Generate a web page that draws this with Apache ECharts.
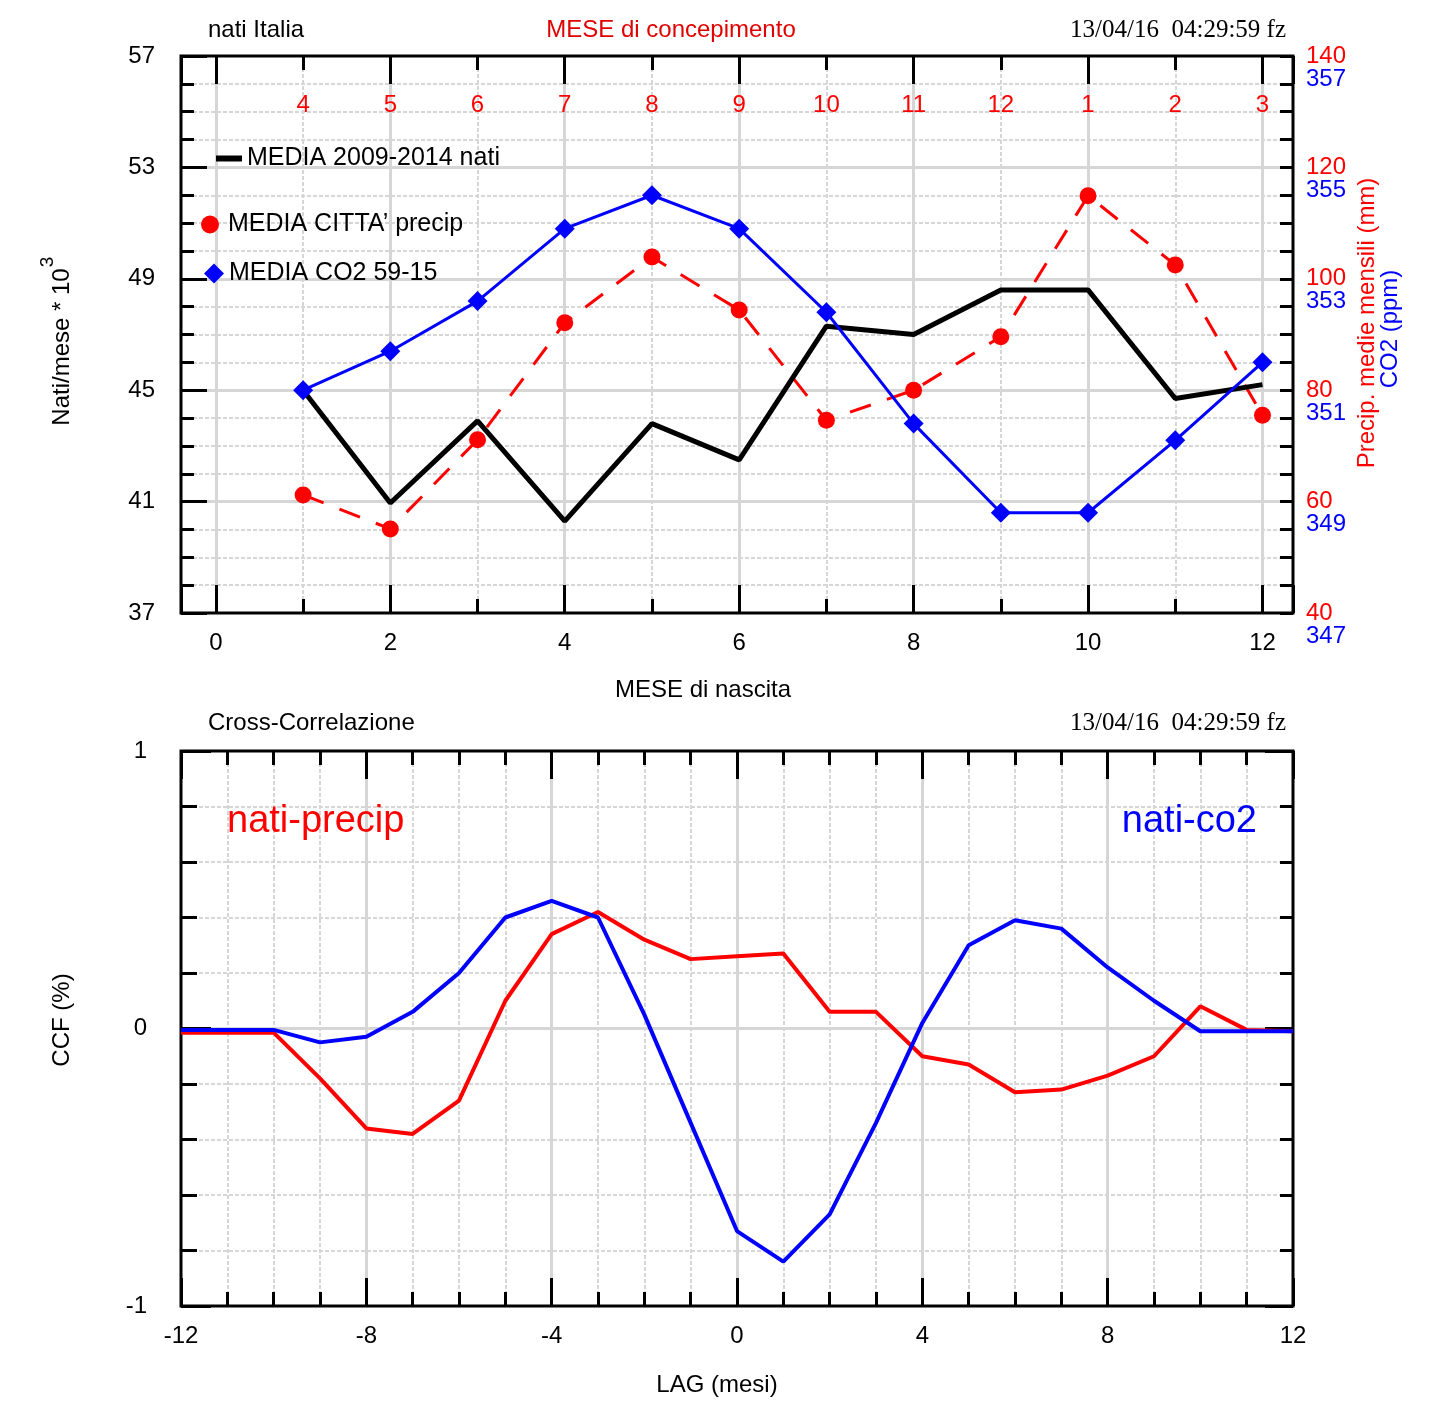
<!DOCTYPE html>
<html>
<head>
<meta charset="utf-8">
<script src="https://cdn.jsdelivr.net/npm/echarts@6/dist/echarts.min.js"></script>
<style>
html,body{margin:0;padding:0;background:#fff;}
#c{width:1431px;height:1413px;}
</style>
</head>
<body>
<div id="c"></div>
<script>
// ---------- data ----------
const months = [1, 2, 3, 4, 5, 6, 7, 8, 9, 10, 11, 12];
const conceptionLabels = ['4', '5', '6', '7', '8', '9', '10', '11', '12', '1', '2', '3'];
const births = [45.0, 40.95, 43.9, 40.3, 43.8, 42.5, 47.3, 47.0, 48.6, 48.6, 44.7, 45.2];
const precip = [61.2, 55.1, 71.1, 92.1, 103.9, 94.4, 74.6, 80.0, 89.6, 114.9, 102.5, 75.5];
const co2 = [351.0, 351.7, 352.6, 353.9, 354.5, 353.9, 352.4, 350.4, 348.8, 348.8, 350.1, 351.5];

const lags = [-12, -11, -10, -9, -8, -7, -6, -5, -4, -3, -2, -1, 0, 1, 2, 3, 4, 5, 6, 7, 8, 9, 10, 11, 12];
const ccfPrecip = [-0.015, -0.015, -0.015, -0.18, -0.36, -0.38, -0.26, 0.10, 0.34, 0.42, 0.32, 0.25, 0.26, 0.27, 0.06, 0.06, -0.10, -0.13, -0.23, -0.22, -0.17, -0.10, 0.08, -0.005, -0.01];
const ccfCo2 = [-0.005, -0.005, -0.005, -0.05, -0.03, 0.06, 0.20, 0.40, 0.46, 0.40, 0.05, -0.34, -0.73, -0.84, -0.67, -0.34, 0.02, 0.30, 0.39, 0.36, 0.22, 0.10, -0.01, -0.01, -0.01];

const seriesNames = ['MEDIA 2009-2014 nati', 'MEDIA CITTA\u2019 precip', 'MEDIA CO2 59-15', 'nati-precip', 'nati-co2'];

// ---------- style helpers ----------
const FONT = '"Liberation Sans", Arial, Helvetica, sans-serif';
const SERIF = '"Liberation Serif", "Times New Roman", serif';
const GRAY = '#d6d6d6';
const RED = '#ff0000';
const BLUE = '#0000ff';

function axis(extra) {
  return Object.assign({
    type: 'value',
    axisLine: { show: false, onZero: false },
    axisTick: { show: false },
    axisLabel: { show: false },
    splitLine: { show: false },
    minorTick: { show: false },
    minorSplitLine: { show: false },
    z: 1
  }, extra);
}
const solidSplit = { show: true, showMinLine: false, showMaxLine: false, lineStyle: { color: GRAY, width: 3, type: 'solid' } };
const dotSplit = { show: true, showMinLine: false, showMaxLine: false, lineStyle: { color: GRAY, width: 2, type: [4, 2] } };
function tick(len) { return { show: true, inside: true, length: len, lineStyle: { color: '#000', width: 3 } }; }
function minor(len, n) { return { show: true, splitNumber: n, length: len, lineStyle: { color: '#000', width: 3 } }; }
const numLabel = (margin, color) => ({ show: true, margin: margin, color: color || '#000', fontSize: 24, fontFamily: FONT });

const XMIN = -0.4, XMAX = 12.35;
const intFmt = v => (Math.abs(v - Math.round(v)) < 1e-6 ? String(Math.round(v)) : '');

const chart = echarts.init(document.getElementById('c'), null, { renderer: 'canvas' });

const option = {
  backgroundColor: '#fff',
  animation: false,
  grid: [
    { left: 181, top: 56, width: 1112, height: 557, show: true, borderColor: '#000', borderWidth: 3, z: 1, containLabel: false, outerBoundsMode: 'none' },
    { left: 181, top: 751, width: 1112, height: 555, show: true, borderColor: '#000', borderWidth: 3, z: 1, containLabel: false, outerBoundsMode: 'none' }
  ],
  xAxis: [
    // 0: top chart minor grid (drawn first)
    axis({ gridIndex: 0, position: 'bottom', min: XMIN, max: XMAX, minInterval: 1, maxInterval: 1, z: 0, splitLine: dotSplit }),
    // 1: top chart data axis (labels + major grid)
    axis({ gridIndex: 0, position: 'bottom', min: XMIN, max: XMAX, minInterval: 2, maxInterval: 2, z: 0,
      axisLabel: Object.assign(numLabel(18), { showMinLabel: false, showMaxLabel: false, formatter: intFmt }),
      splitLine: solidSplit }),
    // 2: bottom major ticks
    axis({ gridIndex: 0, position: 'bottom', min: XMIN, max: XMAX, minInterval: 2, maxInterval: 2, axisTick: tick(28) }),
    // 3: bottom minor ticks
    axis({ gridIndex: 0, position: 'bottom', min: XMIN, max: XMAX, minInterval: 1, maxInterval: 1, axisTick: tick(14) }),
    // 4: top major ticks
    axis({ gridIndex: 0, position: 'top', min: XMIN, max: XMAX, minInterval: 2, maxInterval: 2, axisTick: tick(28) }),
    // 5: top minor ticks + conception month labels
    axis({ gridIndex: 0, position: 'top', min: XMIN, max: XMAX, minInterval: 1, maxInterval: 1, axisTick: tick(14),
      axisLabel: { show: true, inside: true, margin: 37, color: RED, fontSize: 24, fontFamily: FONT,
        showMinLabel: false, showMaxLabel: false,
        formatter: v => { const i = Math.round(v); return (Math.abs(v - i) < 1e-6 && i >= 1 && i <= 12) ? conceptionLabels[i - 1] : ''; } } }),
    // 6: bottom chart data axis
    axis({ gridIndex: 1, position: 'bottom', min: -12, max: 12, interval: 4, z: 0,
      axisLabel: numLabel(18), splitLine: solidSplit,
      minorTick: { show: false, splitNumber: 4 }, minorSplitLine: dotSplit }),
    // 7: bottom chart bottom ticks
    axis({ gridIndex: 1, position: 'bottom', min: -12, max: 12, interval: 4, axisTick: tick(28), minorTick: minor(14, 4) }),
    // 8: bottom chart top ticks
    axis({ gridIndex: 1, position: 'top', min: -12, max: 12, interval: 4, axisTick: tick(28), minorTick: minor(14, 4) })
  ],
  yAxis: [
    // 0: births (left)
    axis({ gridIndex: 0, position: 'left', min: 37, max: 57, interval: 4, z: 0,
      axisLabel: numLabel(26), splitLine: solidSplit,
      minorTick: { show: false, splitNumber: 4 }, minorSplitLine: dotSplit }),
    // 1: left ticks
    axis({ gridIndex: 0, position: 'left', min: 37, max: 57, interval: 4, axisTick: tick(26), minorTick: minor(13, 4) }),
    // 2: precip (right)
    axis({ gridIndex: 0, position: 'right', min: 40, max: 140, interval: 20,
      axisLabel: numLabel(13, RED), axisTick: tick(13), minorTick: minor(13, 4) }),
    // 3: CO2 (right)
    axis({ gridIndex: 0, position: 'right', min: 347, max: 357, interval: 2,
      axisLabel: Object.assign(numLabel(13, BLUE), { verticalAlign: 'top', padding: [11, 0, 0, 0] }) }),
    // 4: CCF data axis
    axis({ gridIndex: 1, position: 'left', min: -1, max: 1, interval: 1, z: 0,
      axisLabel: numLabel(34), splitLine: solidSplit,
      minorTick: { show: false, splitNumber: 5 }, minorSplitLine: dotSplit }),
    // 5: left ticks
    axis({ gridIndex: 1, position: 'left', min: -1, max: 1, interval: 1, axisTick: tick(30), minorTick: minor(16, 5) }),
    // 6: right ticks
    axis({ gridIndex: 1, position: 'right', min: -1, max: 1, interval: 1, axisTick: tick(28), minorTick: minor(13, 5) })
  ],
  legend: [
    { left: 216, top: 146, padding: 0, orient: 'vertical', itemWidth: 26, itemHeight: 6, itemGap: 0,
      textStyle: { fontSize: 25, fontFamily: FONT, color: '#000' },
      data: [{ name: seriesNames[0], icon: 'rect' }] },
    { left: 201, top: 212, padding: 0, orient: 'vertical', itemWidth: 26, itemHeight: 18, itemGap: 0,
      textStyle: { fontSize: 25, fontFamily: FONT, color: '#000' },
      data: [{ name: seriesNames[1], icon: 'circle' }] },
    { left: 204, top: 261, padding: 0, orient: 'vertical', itemWidth: 20, itemHeight: 20, itemGap: 0,
      textStyle: { fontSize: 25, fontFamily: FONT, color: '#000' },
      data: [{ name: seriesNames[2], icon: 'diamond' }] }
  ],
  series: [
    { name: seriesNames[1], type: 'line', xAxisIndex: 1, yAxisIndex: 2, z: 2,
      data: months.map((m, i) => [m, precip[i]]),
      symbol: 'circle', symbolSize: 17, showSymbol: true,
      itemStyle: { color: RED }, lineStyle: { color: RED, width: 3, type: [22, 17] } },
    { name: seriesNames[0], type: 'line', xAxisIndex: 1, yAxisIndex: 0, z: 3,
      data: months.map((m, i) => [m, births[i]]),
      symbol: 'none', itemStyle: { color: '#000' }, lineStyle: { color: '#000', width: 5 } },
    { name: seriesNames[2], type: 'line', xAxisIndex: 1, yAxisIndex: 3, z: 4,
      data: months.map((m, i) => [m, co2[i]]),
      symbol: 'diamond', symbolSize: 20, showSymbol: true,
      itemStyle: { color: BLUE }, lineStyle: { color: BLUE, width: 3 } },
    { name: seriesNames[3], type: 'line', xAxisIndex: 6, yAxisIndex: 4, z: 3,
      data: lags.map((l, i) => [l, ccfPrecip[i]]),
      symbol: 'none', itemStyle: { color: RED }, lineStyle: { color: RED, width: 4 } },
    { name: seriesNames[4], type: 'line', xAxisIndex: 6, yAxisIndex: 4, z: 4,
      data: lags.map((l, i) => [l, ccfCo2[i]]),
      symbol: 'none', itemStyle: { color: BLUE }, lineStyle: { color: BLUE, width: 4 } }
  ],
  graphic: [
    { type: 'text', x: 208, y: 30, style: { text: 'nati Italia', fill: '#000', font: '24px ' + FONT, textAlign: 'left', textVerticalAlign: 'middle', align: 'left', verticalAlign: 'middle' } },
    { type: 'text', x: 671, y: 30, style: { text: 'MESE di concepimento', fill: '#e00000', font: '24px ' + FONT, textAlign: 'center', textVerticalAlign: 'middle', align: 'center', verticalAlign: 'middle' } },
    { type: 'text', x: 1286, y: 30, style: { text: '13/04/16  04:29:59 fz', fill: '#000', font: '25px ' + SERIF, textAlign: 'right', textVerticalAlign: 'middle', align: 'right', verticalAlign: 'middle' } },
    { type: 'text', x: 703, y: 690, style: { text: 'MESE di nascita', fill: '#000', font: '24px ' + FONT, textAlign: 'center', textVerticalAlign: 'middle', align: 'center', verticalAlign: 'middle' } },
    { type: 'text', x: 62, y: 347, rotation: Math.PI / 2, style: { text: 'Nati/mese * 10', fill: '#000', font: '24px ' + FONT, textAlign: 'center', textVerticalAlign: 'middle', align: 'center', verticalAlign: 'middle' } },
    { type: 'text', x: 48, y: 262, rotation: Math.PI / 2, style: { text: '3', fill: '#000', font: '19px ' + FONT, textAlign: 'center', textVerticalAlign: 'middle', align: 'center', verticalAlign: 'middle' } },
    { type: 'text', x: 1367, y: 323, rotation: Math.PI / 2, style: { text: 'Precip. medie mensili (mm)', fill: RED, font: '24px ' + FONT, textAlign: 'center', textVerticalAlign: 'middle', align: 'center', verticalAlign: 'middle' } },
    { type: 'text', x: 1390, y: 329, rotation: Math.PI / 2, style: { text: 'CO2 (ppm)', fill: BLUE, font: '24px ' + FONT, textAlign: 'center', textVerticalAlign: 'middle', align: 'center', verticalAlign: 'middle' } },
    { type: 'text', x: 208, y: 723, style: { text: 'Cross-Correlazione', fill: '#000', font: '24px ' + FONT, textAlign: 'left', textVerticalAlign: 'middle', align: 'left', verticalAlign: 'middle' } },
    { type: 'text', x: 1286, y: 723, style: { text: '13/04/16  04:29:59 fz', fill: '#000', font: '25px ' + SERIF, textAlign: 'right', textVerticalAlign: 'middle', align: 'right', verticalAlign: 'middle' } },
    { type: 'text', x: 227, y: 822, z: 10, style: { text: 'nati-precip', fill: RED, font: '38px ' + FONT, textAlign: 'left', textVerticalAlign: 'middle', align: 'left', verticalAlign: 'middle' } },
    { type: 'text', x: 1257, y: 822, z: 10, style: { text: 'nati-co2', fill: BLUE, font: '38px ' + FONT, textAlign: 'right', textVerticalAlign: 'middle', align: 'right', verticalAlign: 'middle' } },
    { type: 'text', x: 717, y: 1385, style: { text: 'LAG (mesi)', fill: '#000', font: '24px ' + FONT, textAlign: 'center', textVerticalAlign: 'middle', align: 'center', verticalAlign: 'middle' } },
    { type: 'text', x: 62, y: 1020, rotation: Math.PI / 2, style: { text: 'CCF (%)', fill: '#000', font: '24px ' + FONT, textAlign: 'center', textVerticalAlign: 'middle', align: 'center', verticalAlign: 'middle' } }
  ]
};
chart.setOption(option);
</script>
</body>
</html>
